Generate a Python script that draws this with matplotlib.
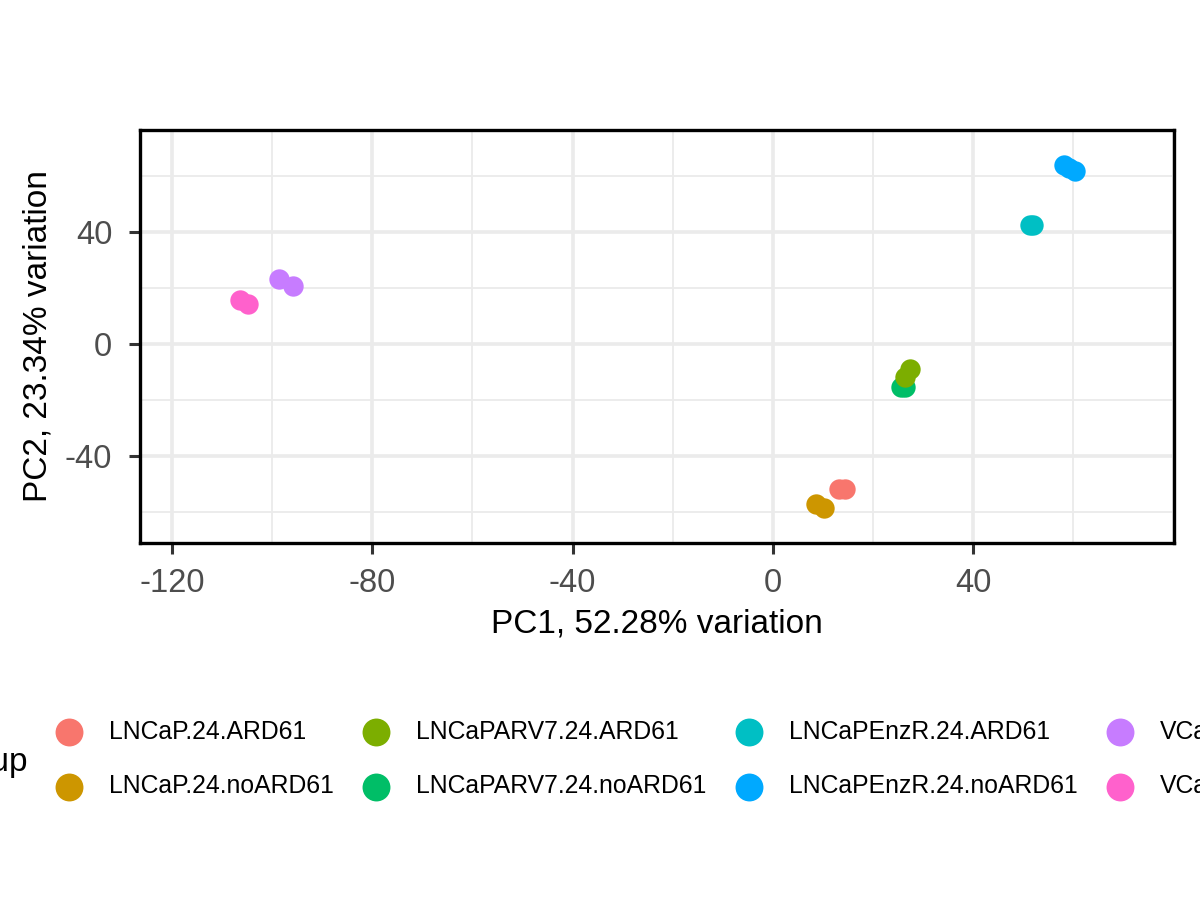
import matplotlib
matplotlib.use("Agg")
import matplotlib.pyplot as plt
import matplotlib.ticker as ticker

plt.rcParams["font.family"] = ["Liberation Sans", "DejaVu Sans"]

# group names in legend order, with ggplot hue colours
groups = ["LNCaP.24.ARD61", "LNCaP.24.noARD61",
          "LNCaPARV7.24.ARD61", "LNCaPARV7.24.noARD61",
          "LNCaPEnzR.24.ARD61", "LNCaPEnzR.24.noARD61",
          "VCaP.24.ARD61", "VCaP.24.noARD61"]
colors = ["#F8766D", "#CD9600", "#7CAE00", "#00BE67",
          "#00BFC4", "#00A9FF", "#C77CFF", "#FF61CC"]

# PC scores per group
pc1 = {
    "LNCaP.24.ARD61": [13.2, 14.4],
    "LNCaP.24.noARD61": [8.7, 10.3],
    "LNCaPARV7.24.ARD61": [27.4, 26.4],
    "LNCaPARV7.24.noARD61": [25.5, 26.3],
    "LNCaPEnzR.24.ARD61": [51.4, 52.0],
    "LNCaPEnzR.24.noARD61": [58.1, 59.1, 60.3],
    "VCaP.24.ARD61": [-98.7, -95.9],
    "VCaP.24.noARD61": [-106.5, -104.8],
}
pc2 = {
    "LNCaP.24.ARD61": [-51.7, -51.7],
    "LNCaP.24.noARD61": [-57.1, -58.7],
    "LNCaPARV7.24.ARD61": [-9.0, -11.7],
    "LNCaPARV7.24.noARD61": [-15.5, -15.5],
    "LNCaPEnzR.24.ARD61": [42.5, 42.5],
    "LNCaPEnzR.24.noARD61": [63.9, 63.0, 61.9],
    "VCaP.24.ARD61": [23.2, 20.8],
    "VCaP.24.noARD61": [15.7, 14.2],
}
xbreaks = [-120, -80, -40, 0, 40]
ybreaks = [-40, 0, 40]
draw_order = [1, 0, 3, 2, 4, 5, 7, 6]

fig = plt.figure(figsize=(12, 9), dpi=100)
ax = fig.add_axes([140/1200, 357/900, 1034/1200, 413/900])

handles = {}
for i in draw_order:
    g = groups[i]
    handles[g] = ax.scatter(pc1[g], pc2[g], s=215, c=colors[i], lw=0, label=g, zorder=3)

ax.set_xlim(-126.4, 80.1)
ax.set_ylim(-71.1, 76.4)
ax.set_xticks(xbreaks)
ax.set_yticks(ybreaks)
ax.xaxis.set_major_formatter(lambda v, pos: "%d" % v)
ax.yaxis.set_major_formatter(lambda v, pos: "%d" % v)
ax.xaxis.set_minor_locator(ticker.MultipleLocator(20))
ax.yaxis.set_minor_locator(ticker.MultipleLocator(20))
ax.grid(which="major", color="#EBEBEB", lw=2.6)
ax.grid(which="minor", color="#EBEBEB", lw=1.3)
ax.set_axisbelow(True)
for sp in ax.spines.values():
    sp.set_linewidth(2.4)
    sp.set_color("black")
ax.tick_params(which="major", length=8, width=2.2, color="#333333",
               labelsize=23.5, labelcolor="#4D4D4D")
ax.tick_params(axis="x", pad=10)
ax.tick_params(axis="y", pad=12)
ax.tick_params(which="minor", length=0)

ax.set_xlabel("PC1, 52.28% variation", fontsize=24, labelpad=7)
ax.set_ylabel("PC2, 23.34% variation", fontsize=24, labelpad=8)

leg = fig.legend([handles[g] for g in groups], groups, ncol=4,
                 loc="center left", bbox_to_anchor=(57/1200, 1-759/900),
                 frameon=False, fontsize=17.8, markerscale=1.37,
                 handlelength=1.0, handletextpad=1.12, columnspacing=1.2,
                 labelspacing=1.25, borderpad=0, borderaxespad=0)
fig.text(28/1200, 1-762/900, "Group", fontsize=24, ha="right", va="center")

fig.savefig("out.png", dpi=100)
